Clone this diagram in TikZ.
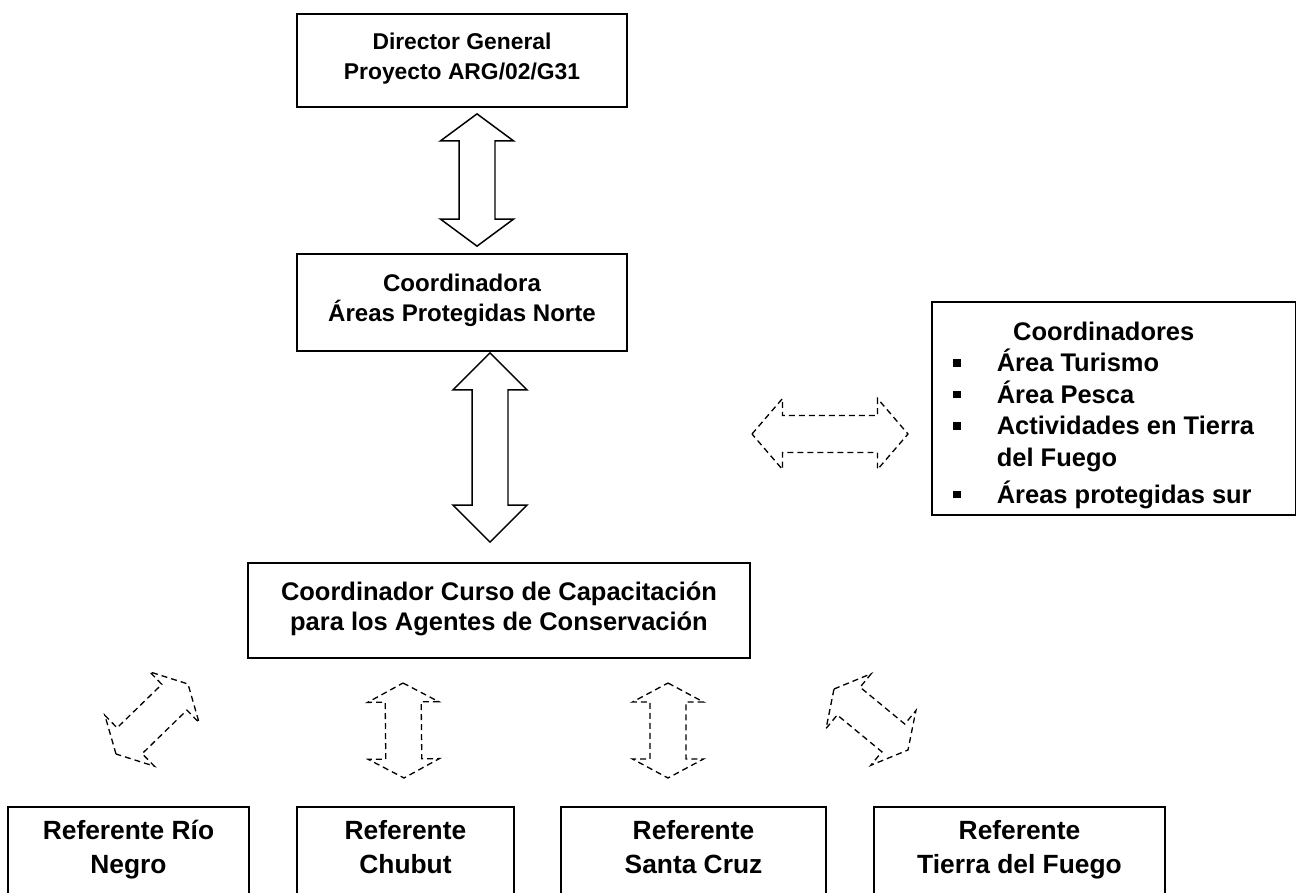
\documentclass[tikz,border=0pt]{standalone}
\usepackage{fontspec}
\setmainfont{Liberation Sans}
\usetikzlibrary{calc}

% hollow double arrow from tip #2 to tip #3: shaft half width #4, head half width #5, head length #6
\newcommand{\blkarrow}[6][]{%
  \draw[#1] (#2) -- ($(#2)!#6!(#3)!#5!90:(#3)$) -- ($(#2)!#6!(#3)!#4!90:(#3)$)
    -- ($(#3)!#6!(#2)!#4!-90:(#2)$) -- ($(#3)!#6!(#2)!#5!-90:(#2)$) -- (#3)
    -- ($(#3)!#6!(#2)!#5!90:(#2)$) -- ($(#3)!#6!(#2)!#4!90:(#2)$)
    -- ($(#2)!#6!(#3)!#4!-90:(#3)$) -- ($(#2)!#6!(#3)!#5!-90:(#3)$) -- cycle;}
\newcommand{\bul}{\raisebox{0.1cm}{\rule{0.15cm}{0.15cm}}}

\begin{document}
\begin{tikzpicture}[x=0.02cm, y=-0.02cm,
  box/.style={draw, line width=1pt, align=center,
    font=\fontsize{14.5}{17}\selectfont\bfseries,
    execute at begin node=\strut, execute at end node=\strut},
  refbox/.style={box, font=\fontsize{15}{19}\selectfont\bfseries},
  solidarrow/.style={line width=0.85pt},
  dasharrow/.style={line width=0.75pt, dash pattern=on 3.4pt off 2.3pt}]
\useasboundingbox (0,0) rectangle (1296,893);
\clip (0,0) rectangle (1296,893);

\node[box, font=\fontsize{13}{17}\selectfont\bfseries, minimum width=6.6cm, minimum height=1.86cm] (dir) at (462,60.5)
  {Director General\\Proyecto ARG/02/G31};
\node[box, font=\fontsize{13.7}{17}\selectfont\bfseries, minimum width=6.6cm, minimum height=1.94cm] (norte) at (462,302.5)
  {Coordinadora\\Áreas Protegidas Norte};
\node[box, minimum width=10.04cm, minimum height=1.9cm] (curso) at (499,610.5)
  {Coordinador Curso de Capacitación\\para los Agentes de Conservación};

\node[draw, line width=1pt, minimum width=7.28cm, minimum height=4.26cm] (coordbox) at (1114,408.5) {};
\node[anchor=base west, inner sep=0, font=\fontsize{14.5}{17}\selectfont\bfseries] (coordlist) at (953,340)
  {\begin{tabular}[t]{@{}l@{\hspace{0.72cm}}l@{}}
   \multicolumn{2}{c}{Coordinadores}\\
   \bul & Área Turismo\\
   \bul & Área Pesca\\[1pt]
   \bul & Actividades en Tierra\\[1pt]
        & del Fuego\\[3pt]
   \bul & Áreas protegidas sur
   \end{tabular}};

\node[refbox, minimum width=4.82cm, minimum height=1.8cm] (rionegro) at (128.5,852) {Referente Río\\Negro};
\node[refbox, minimum width=4.34cm, minimum height=1.8cm] (chubut) at (405.5,852) {Referente\\Chubut};
\node[refbox, minimum width=5.3cm, minimum height=1.8cm] (santacruz) at (693.5,852) {Referente\\Santa Cruz};
\node[refbox, minimum width=5.82cm, minimum height=1.8cm] (fuego) at (1019.5,852) {Referente\\Tierra del Fuego};

% solid arrows
\coordinate (t1) at ($(dir.south)+(15,6)$);
\coordinate (t2) at ($(norte.north)+(15,-7)$);
\coordinate (t3) at ($(norte.south)+(28,1)$);
\coordinate (t4) at ($(curso.north)+(-9,-20)$);
\blkarrow[solidarrow]{t1}{t2}{0.36cm}{0.73cm}{0.54cm}
\blkarrow[solidarrow]{t3}{t4}{0.36cm}{0.74cm}{0.74cm}

% dashed arrows
\coordinate (h1) at (752,434);
\coordinate (h2) at (908,434);
\blkarrow[dasharrow]{h1}{h2}{0.37cm}{0.71cm}{0.61cm}

\coordinate (d1) at (116,754);
\coordinate (d2) at (188,684);
\coordinate (v1) at (403,683);
\coordinate (v2) at (404,778);
\coordinate (v3) at (668,683);
\coordinate (v4) at (668,778);
\coordinate (d3) at (834,689);
\coordinate (d4) at (908,750);
\blkarrow[dasharrow]{d1}{d2}{0.36cm}{0.71cm}{0.38cm}
\blkarrow[dasharrow]{v1}{v2}{0.36cm}{0.71cm}{0.38cm}
\blkarrow[dasharrow]{v3}{v4}{0.36cm}{0.71cm}{0.38cm}
\blkarrow[dasharrow]{d3}{d4}{0.36cm}{0.71cm}{0.38cm}
\end{tikzpicture}
\end{document}
